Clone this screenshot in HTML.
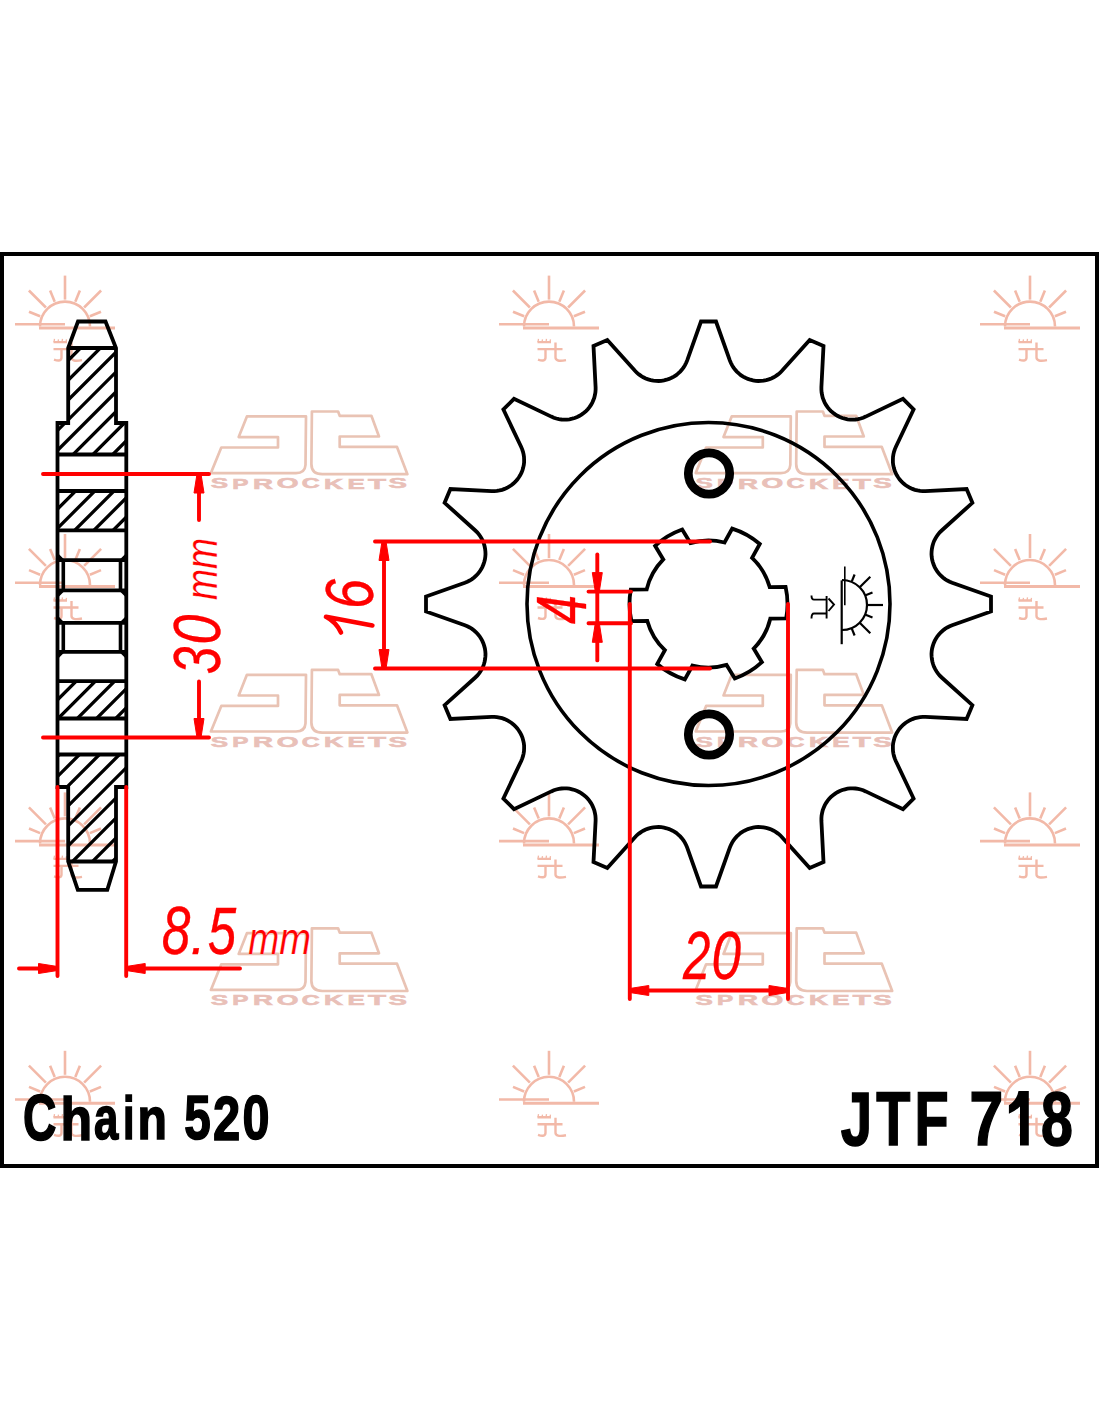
<!DOCTYPE html><html><head><meta charset="utf-8"><style>html,body{margin:0;padding:0;background:#fff;}svg{display:block}</style></head><body>
<svg width="1100" height="1422" viewBox="0 0 1100 1422">
<rect x="0" y="0" width="1100" height="1422" fill="#fff"/>
<path d="M40,326.6 A25,25 0 0 1 90,326.6" fill="none" stroke="#f2b9a8" stroke-width="2.6"/>
<line x1="65" y1="299.6" x2="65" y2="275.6" stroke="#f2b9a8" stroke-width="2.6"/>
<line x1="75.3" y1="301.7" x2="79.9" y2="290.6" stroke="#f2b9a8" stroke-width="2.6"/>
<line x1="54.7" y1="301.7" x2="50.1" y2="290.6" stroke="#f2b9a8" stroke-width="2.6"/>
<line x1="84.1" y1="307.5" x2="101.1" y2="290.5" stroke="#f2b9a8" stroke-width="2.6"/>
<line x1="45.9" y1="307.5" x2="28.9" y2="290.5" stroke="#f2b9a8" stroke-width="2.6"/>
<line x1="89.9" y1="316.3" x2="101" y2="311.7" stroke="#f2b9a8" stroke-width="2.6"/>
<line x1="40.1" y1="316.3" x2="29" y2="311.7" stroke="#f2b9a8" stroke-width="2.6"/>
<line x1="15" y1="324.3" x2="65" y2="324.3" stroke="#f2b9a8" stroke-width="2.6"/>
<line x1="39" y1="328.1" x2="115" y2="328.1" stroke="#f2b9a8" stroke-width="3"/>
<path d="M53.5,342.1 L67,342.1 M53.5,349.1 L78.5,349.1 M61.5,349.1 L61.5,357.6 Q61.5,362.1 54,359.6 M71.5,342.6 L71.5,357.6 Q71.5,362.1 82,360.1" fill="none" stroke="#f2b9a8" stroke-width="2.4"/>
<path d="M54,342.1 L54.5,338.9 M58,342.1 L58.5,339.4 M62,342.1 L62.5,338.9 M66,342.1 L66.5,339.4" stroke="#f2b9a8" stroke-width="1.3" fill="none"/>
<path d="M524,326.6 A25,25 0 0 1 574,326.6" fill="none" stroke="#f2b9a8" stroke-width="2.6"/>
<line x1="549" y1="299.6" x2="549" y2="275.6" stroke="#f2b9a8" stroke-width="2.6"/>
<line x1="559.3" y1="301.7" x2="563.9" y2="290.6" stroke="#f2b9a8" stroke-width="2.6"/>
<line x1="538.7" y1="301.7" x2="534.1" y2="290.6" stroke="#f2b9a8" stroke-width="2.6"/>
<line x1="568.1" y1="307.5" x2="585.1" y2="290.5" stroke="#f2b9a8" stroke-width="2.6"/>
<line x1="529.9" y1="307.5" x2="512.9" y2="290.5" stroke="#f2b9a8" stroke-width="2.6"/>
<line x1="573.9" y1="316.3" x2="585" y2="311.7" stroke="#f2b9a8" stroke-width="2.6"/>
<line x1="524.1" y1="316.3" x2="513" y2="311.7" stroke="#f2b9a8" stroke-width="2.6"/>
<line x1="499" y1="324.3" x2="549" y2="324.3" stroke="#f2b9a8" stroke-width="2.6"/>
<line x1="523" y1="328.1" x2="599" y2="328.1" stroke="#f2b9a8" stroke-width="3"/>
<path d="M537.5,342.1 L551,342.1 M537.5,349.1 L562.5,349.1 M545.5,349.1 L545.5,357.6 Q545.5,362.1 538,359.6 M555.5,342.6 L555.5,357.6 Q555.5,362.1 566,360.1" fill="none" stroke="#f2b9a8" stroke-width="2.4"/>
<path d="M538,342.1 L538.5,338.9 M542,342.1 L542.5,339.4 M546,342.1 L546.5,338.9 M550,342.1 L550.5,339.4" stroke="#f2b9a8" stroke-width="1.3" fill="none"/>
<path d="M1005,326.6 A25,25 0 0 1 1055,326.6" fill="none" stroke="#f2b9a8" stroke-width="2.6"/>
<line x1="1030" y1="299.6" x2="1030" y2="275.6" stroke="#f2b9a8" stroke-width="2.6"/>
<line x1="1040.3" y1="301.7" x2="1044.9" y2="290.6" stroke="#f2b9a8" stroke-width="2.6"/>
<line x1="1019.7" y1="301.7" x2="1015.1" y2="290.6" stroke="#f2b9a8" stroke-width="2.6"/>
<line x1="1049.1" y1="307.5" x2="1066.1" y2="290.5" stroke="#f2b9a8" stroke-width="2.6"/>
<line x1="1010.9" y1="307.5" x2="993.9" y2="290.5" stroke="#f2b9a8" stroke-width="2.6"/>
<line x1="1054.9" y1="316.3" x2="1066" y2="311.7" stroke="#f2b9a8" stroke-width="2.6"/>
<line x1="1005.1" y1="316.3" x2="994" y2="311.7" stroke="#f2b9a8" stroke-width="2.6"/>
<line x1="980" y1="324.3" x2="1030" y2="324.3" stroke="#f2b9a8" stroke-width="2.6"/>
<line x1="1004" y1="328.1" x2="1080" y2="328.1" stroke="#f2b9a8" stroke-width="3"/>
<path d="M1018.5,342.1 L1032,342.1 M1018.5,349.1 L1043.5,349.1 M1026.5,349.1 L1026.5,357.6 Q1026.5,362.1 1019,359.6 M1036.5,342.6 L1036.5,357.6 Q1036.5,362.1 1047,360.1" fill="none" stroke="#f2b9a8" stroke-width="2.4"/>
<path d="M1019,342.1 L1019.5,338.9 M1023,342.1 L1023.5,339.4 M1027,342.1 L1027.5,338.9 M1031,342.1 L1031.5,339.4" stroke="#f2b9a8" stroke-width="1.3" fill="none"/>
<path d="M40,585 A25,25 0 0 1 90,585" fill="none" stroke="#f2b9a8" stroke-width="2.6"/>
<line x1="65" y1="558" x2="65" y2="534" stroke="#f2b9a8" stroke-width="2.6"/>
<line x1="75.3" y1="560.1" x2="79.9" y2="549" stroke="#f2b9a8" stroke-width="2.6"/>
<line x1="54.7" y1="560.1" x2="50.1" y2="549" stroke="#f2b9a8" stroke-width="2.6"/>
<line x1="84.1" y1="565.9" x2="101.1" y2="548.9" stroke="#f2b9a8" stroke-width="2.6"/>
<line x1="45.9" y1="565.9" x2="28.9" y2="548.9" stroke="#f2b9a8" stroke-width="2.6"/>
<line x1="89.9" y1="574.7" x2="101" y2="570.1" stroke="#f2b9a8" stroke-width="2.6"/>
<line x1="40.1" y1="574.7" x2="29" y2="570.1" stroke="#f2b9a8" stroke-width="2.6"/>
<line x1="15" y1="582.7" x2="65" y2="582.7" stroke="#f2b9a8" stroke-width="2.6"/>
<line x1="39" y1="586.5" x2="115" y2="586.5" stroke="#f2b9a8" stroke-width="3"/>
<path d="M53.5,600.5 L67,600.5 M53.5,607.5 L78.5,607.5 M61.5,607.5 L61.5,616 Q61.5,620.5 54,618 M71.5,601 L71.5,616 Q71.5,620.5 82,618.5" fill="none" stroke="#f2b9a8" stroke-width="2.4"/>
<path d="M54,600.5 L54.5,597.3 M58,600.5 L58.5,597.8 M62,600.5 L62.5,597.3 M66,600.5 L66.5,597.8" stroke="#f2b9a8" stroke-width="1.3" fill="none"/>
<path d="M524,585 A25,25 0 0 1 574,585" fill="none" stroke="#f2b9a8" stroke-width="2.6"/>
<line x1="549" y1="558" x2="549" y2="534" stroke="#f2b9a8" stroke-width="2.6"/>
<line x1="559.3" y1="560.1" x2="563.9" y2="549" stroke="#f2b9a8" stroke-width="2.6"/>
<line x1="538.7" y1="560.1" x2="534.1" y2="549" stroke="#f2b9a8" stroke-width="2.6"/>
<line x1="568.1" y1="565.9" x2="585.1" y2="548.9" stroke="#f2b9a8" stroke-width="2.6"/>
<line x1="529.9" y1="565.9" x2="512.9" y2="548.9" stroke="#f2b9a8" stroke-width="2.6"/>
<line x1="573.9" y1="574.7" x2="585" y2="570.1" stroke="#f2b9a8" stroke-width="2.6"/>
<line x1="524.1" y1="574.7" x2="513" y2="570.1" stroke="#f2b9a8" stroke-width="2.6"/>
<line x1="499" y1="582.7" x2="549" y2="582.7" stroke="#f2b9a8" stroke-width="2.6"/>
<line x1="523" y1="586.5" x2="599" y2="586.5" stroke="#f2b9a8" stroke-width="3"/>
<path d="M537.5,600.5 L551,600.5 M537.5,607.5 L562.5,607.5 M545.5,607.5 L545.5,616 Q545.5,620.5 538,618 M555.5,601 L555.5,616 Q555.5,620.5 566,618.5" fill="none" stroke="#f2b9a8" stroke-width="2.4"/>
<path d="M538,600.5 L538.5,597.3 M542,600.5 L542.5,597.8 M546,600.5 L546.5,597.3 M550,600.5 L550.5,597.8" stroke="#f2b9a8" stroke-width="1.3" fill="none"/>
<path d="M1005,585 A25,25 0 0 1 1055,585" fill="none" stroke="#f2b9a8" stroke-width="2.6"/>
<line x1="1030" y1="558" x2="1030" y2="534" stroke="#f2b9a8" stroke-width="2.6"/>
<line x1="1040.3" y1="560.1" x2="1044.9" y2="549" stroke="#f2b9a8" stroke-width="2.6"/>
<line x1="1019.7" y1="560.1" x2="1015.1" y2="549" stroke="#f2b9a8" stroke-width="2.6"/>
<line x1="1049.1" y1="565.9" x2="1066.1" y2="548.9" stroke="#f2b9a8" stroke-width="2.6"/>
<line x1="1010.9" y1="565.9" x2="993.9" y2="548.9" stroke="#f2b9a8" stroke-width="2.6"/>
<line x1="1054.9" y1="574.7" x2="1066" y2="570.1" stroke="#f2b9a8" stroke-width="2.6"/>
<line x1="1005.1" y1="574.7" x2="994" y2="570.1" stroke="#f2b9a8" stroke-width="2.6"/>
<line x1="980" y1="582.7" x2="1030" y2="582.7" stroke="#f2b9a8" stroke-width="2.6"/>
<line x1="1004" y1="586.5" x2="1080" y2="586.5" stroke="#f2b9a8" stroke-width="3"/>
<path d="M1018.5,600.5 L1032,600.5 M1018.5,607.5 L1043.5,607.5 M1026.5,607.5 L1026.5,616 Q1026.5,620.5 1019,618 M1036.5,601 L1036.5,616 Q1036.5,620.5 1047,618.5" fill="none" stroke="#f2b9a8" stroke-width="2.4"/>
<path d="M1019,600.5 L1019.5,597.3 M1023,600.5 L1023.5,597.8 M1027,600.5 L1027.5,597.3 M1031,600.5 L1031.5,597.8" stroke="#f2b9a8" stroke-width="1.3" fill="none"/>
<path d="M40,843.4 A25,25 0 0 1 90,843.4" fill="none" stroke="#f2b9a8" stroke-width="2.6"/>
<line x1="65" y1="816.4" x2="65" y2="792.4" stroke="#f2b9a8" stroke-width="2.6"/>
<line x1="75.3" y1="818.5" x2="79.9" y2="807.4" stroke="#f2b9a8" stroke-width="2.6"/>
<line x1="54.7" y1="818.5" x2="50.1" y2="807.4" stroke="#f2b9a8" stroke-width="2.6"/>
<line x1="84.1" y1="824.3" x2="101.1" y2="807.3" stroke="#f2b9a8" stroke-width="2.6"/>
<line x1="45.9" y1="824.3" x2="28.9" y2="807.3" stroke="#f2b9a8" stroke-width="2.6"/>
<line x1="89.9" y1="833.1" x2="101" y2="828.5" stroke="#f2b9a8" stroke-width="2.6"/>
<line x1="40.1" y1="833.1" x2="29" y2="828.5" stroke="#f2b9a8" stroke-width="2.6"/>
<line x1="15" y1="841.1" x2="65" y2="841.1" stroke="#f2b9a8" stroke-width="2.6"/>
<line x1="39" y1="844.9" x2="115" y2="844.9" stroke="#f2b9a8" stroke-width="3"/>
<path d="M53.5,858.9 L67,858.9 M53.5,865.9 L78.5,865.9 M61.5,865.9 L61.5,874.4 Q61.5,878.9 54,876.4 M71.5,859.4 L71.5,874.4 Q71.5,878.9 82,876.9" fill="none" stroke="#f2b9a8" stroke-width="2.4"/>
<path d="M54,858.9 L54.5,855.7 M58,858.9 L58.5,856.2 M62,858.9 L62.5,855.7 M66,858.9 L66.5,856.2" stroke="#f2b9a8" stroke-width="1.3" fill="none"/>
<path d="M524,843.4 A25,25 0 0 1 574,843.4" fill="none" stroke="#f2b9a8" stroke-width="2.6"/>
<line x1="549" y1="816.4" x2="549" y2="792.4" stroke="#f2b9a8" stroke-width="2.6"/>
<line x1="559.3" y1="818.5" x2="563.9" y2="807.4" stroke="#f2b9a8" stroke-width="2.6"/>
<line x1="538.7" y1="818.5" x2="534.1" y2="807.4" stroke="#f2b9a8" stroke-width="2.6"/>
<line x1="568.1" y1="824.3" x2="585.1" y2="807.3" stroke="#f2b9a8" stroke-width="2.6"/>
<line x1="529.9" y1="824.3" x2="512.9" y2="807.3" stroke="#f2b9a8" stroke-width="2.6"/>
<line x1="573.9" y1="833.1" x2="585" y2="828.5" stroke="#f2b9a8" stroke-width="2.6"/>
<line x1="524.1" y1="833.1" x2="513" y2="828.5" stroke="#f2b9a8" stroke-width="2.6"/>
<line x1="499" y1="841.1" x2="549" y2="841.1" stroke="#f2b9a8" stroke-width="2.6"/>
<line x1="523" y1="844.9" x2="599" y2="844.9" stroke="#f2b9a8" stroke-width="3"/>
<path d="M537.5,858.9 L551,858.9 M537.5,865.9 L562.5,865.9 M545.5,865.9 L545.5,874.4 Q545.5,878.9 538,876.4 M555.5,859.4 L555.5,874.4 Q555.5,878.9 566,876.9" fill="none" stroke="#f2b9a8" stroke-width="2.4"/>
<path d="M538,858.9 L538.5,855.7 M542,858.9 L542.5,856.2 M546,858.9 L546.5,855.7 M550,858.9 L550.5,856.2" stroke="#f2b9a8" stroke-width="1.3" fill="none"/>
<path d="M1005,843.4 A25,25 0 0 1 1055,843.4" fill="none" stroke="#f2b9a8" stroke-width="2.6"/>
<line x1="1030" y1="816.4" x2="1030" y2="792.4" stroke="#f2b9a8" stroke-width="2.6"/>
<line x1="1040.3" y1="818.5" x2="1044.9" y2="807.4" stroke="#f2b9a8" stroke-width="2.6"/>
<line x1="1019.7" y1="818.5" x2="1015.1" y2="807.4" stroke="#f2b9a8" stroke-width="2.6"/>
<line x1="1049.1" y1="824.3" x2="1066.1" y2="807.3" stroke="#f2b9a8" stroke-width="2.6"/>
<line x1="1010.9" y1="824.3" x2="993.9" y2="807.3" stroke="#f2b9a8" stroke-width="2.6"/>
<line x1="1054.9" y1="833.1" x2="1066" y2="828.5" stroke="#f2b9a8" stroke-width="2.6"/>
<line x1="1005.1" y1="833.1" x2="994" y2="828.5" stroke="#f2b9a8" stroke-width="2.6"/>
<line x1="980" y1="841.1" x2="1030" y2="841.1" stroke="#f2b9a8" stroke-width="2.6"/>
<line x1="1004" y1="844.9" x2="1080" y2="844.9" stroke="#f2b9a8" stroke-width="3"/>
<path d="M1018.5,858.9 L1032,858.9 M1018.5,865.9 L1043.5,865.9 M1026.5,865.9 L1026.5,874.4 Q1026.5,878.9 1019,876.4 M1036.5,859.4 L1036.5,874.4 Q1036.5,878.9 1047,876.9" fill="none" stroke="#f2b9a8" stroke-width="2.4"/>
<path d="M1019,858.9 L1019.5,855.7 M1023,858.9 L1023.5,856.2 M1027,858.9 L1027.5,855.7 M1031,858.9 L1031.5,856.2" stroke="#f2b9a8" stroke-width="1.3" fill="none"/>
<path d="M40,1101.8 A25,25 0 0 1 90,1101.8" fill="none" stroke="#f2b9a8" stroke-width="2.6"/>
<line x1="65" y1="1074.8" x2="65" y2="1050.8" stroke="#f2b9a8" stroke-width="2.6"/>
<line x1="75.3" y1="1076.9" x2="79.9" y2="1065.8" stroke="#f2b9a8" stroke-width="2.6"/>
<line x1="54.7" y1="1076.9" x2="50.1" y2="1065.8" stroke="#f2b9a8" stroke-width="2.6"/>
<line x1="84.1" y1="1082.7" x2="101.1" y2="1065.7" stroke="#f2b9a8" stroke-width="2.6"/>
<line x1="45.9" y1="1082.7" x2="28.9" y2="1065.7" stroke="#f2b9a8" stroke-width="2.6"/>
<line x1="89.9" y1="1091.5" x2="101" y2="1086.9" stroke="#f2b9a8" stroke-width="2.6"/>
<line x1="40.1" y1="1091.5" x2="29" y2="1086.9" stroke="#f2b9a8" stroke-width="2.6"/>
<line x1="15" y1="1099.5" x2="65" y2="1099.5" stroke="#f2b9a8" stroke-width="2.6"/>
<line x1="39" y1="1103.3" x2="115" y2="1103.3" stroke="#f2b9a8" stroke-width="3"/>
<path d="M53.5,1117.3 L67,1117.3 M53.5,1124.3 L78.5,1124.3 M61.5,1124.3 L61.5,1132.8 Q61.5,1137.3 54,1134.8 M71.5,1117.8 L71.5,1132.8 Q71.5,1137.3 82,1135.3" fill="none" stroke="#f2b9a8" stroke-width="2.4"/>
<path d="M54,1117.3 L54.5,1114.1 M58,1117.3 L58.5,1114.6 M62,1117.3 L62.5,1114.1 M66,1117.3 L66.5,1114.6" stroke="#f2b9a8" stroke-width="1.3" fill="none"/>
<path d="M524,1101.8 A25,25 0 0 1 574,1101.8" fill="none" stroke="#f2b9a8" stroke-width="2.6"/>
<line x1="549" y1="1074.8" x2="549" y2="1050.8" stroke="#f2b9a8" stroke-width="2.6"/>
<line x1="559.3" y1="1076.9" x2="563.9" y2="1065.8" stroke="#f2b9a8" stroke-width="2.6"/>
<line x1="538.7" y1="1076.9" x2="534.1" y2="1065.8" stroke="#f2b9a8" stroke-width="2.6"/>
<line x1="568.1" y1="1082.7" x2="585.1" y2="1065.7" stroke="#f2b9a8" stroke-width="2.6"/>
<line x1="529.9" y1="1082.7" x2="512.9" y2="1065.7" stroke="#f2b9a8" stroke-width="2.6"/>
<line x1="573.9" y1="1091.5" x2="585" y2="1086.9" stroke="#f2b9a8" stroke-width="2.6"/>
<line x1="524.1" y1="1091.5" x2="513" y2="1086.9" stroke="#f2b9a8" stroke-width="2.6"/>
<line x1="499" y1="1099.5" x2="549" y2="1099.5" stroke="#f2b9a8" stroke-width="2.6"/>
<line x1="523" y1="1103.3" x2="599" y2="1103.3" stroke="#f2b9a8" stroke-width="3"/>
<path d="M537.5,1117.3 L551,1117.3 M537.5,1124.3 L562.5,1124.3 M545.5,1124.3 L545.5,1132.8 Q545.5,1137.3 538,1134.8 M555.5,1117.8 L555.5,1132.8 Q555.5,1137.3 566,1135.3" fill="none" stroke="#f2b9a8" stroke-width="2.4"/>
<path d="M538,1117.3 L538.5,1114.1 M542,1117.3 L542.5,1114.6 M546,1117.3 L546.5,1114.1 M550,1117.3 L550.5,1114.6" stroke="#f2b9a8" stroke-width="1.3" fill="none"/>
<path d="M1005,1101.8 A25,25 0 0 1 1055,1101.8" fill="none" stroke="#f2b9a8" stroke-width="2.6"/>
<line x1="1030" y1="1074.8" x2="1030" y2="1050.8" stroke="#f2b9a8" stroke-width="2.6"/>
<line x1="1040.3" y1="1076.9" x2="1044.9" y2="1065.8" stroke="#f2b9a8" stroke-width="2.6"/>
<line x1="1019.7" y1="1076.9" x2="1015.1" y2="1065.8" stroke="#f2b9a8" stroke-width="2.6"/>
<line x1="1049.1" y1="1082.7" x2="1066.1" y2="1065.7" stroke="#f2b9a8" stroke-width="2.6"/>
<line x1="1010.9" y1="1082.7" x2="993.9" y2="1065.7" stroke="#f2b9a8" stroke-width="2.6"/>
<line x1="1054.9" y1="1091.5" x2="1066" y2="1086.9" stroke="#f2b9a8" stroke-width="2.6"/>
<line x1="1005.1" y1="1091.5" x2="994" y2="1086.9" stroke="#f2b9a8" stroke-width="2.6"/>
<line x1="980" y1="1099.5" x2="1030" y2="1099.5" stroke="#f2b9a8" stroke-width="2.6"/>
<line x1="1004" y1="1103.3" x2="1080" y2="1103.3" stroke="#f2b9a8" stroke-width="3"/>
<path d="M1018.5,1117.3 L1032,1117.3 M1018.5,1124.3 L1043.5,1124.3 M1026.5,1124.3 L1026.5,1132.8 Q1026.5,1137.3 1019,1134.8 M1036.5,1117.8 L1036.5,1132.8 Q1036.5,1137.3 1047,1135.3" fill="none" stroke="#f2b9a8" stroke-width="2.4"/>
<path d="M1019,1117.3 L1019.5,1114.1 M1023,1117.3 L1023.5,1114.6 M1027,1117.3 L1027.5,1114.1 M1031,1117.3 L1031.5,1114.6" stroke="#f2b9a8" stroke-width="1.3" fill="none"/>
<g transform="translate(0,0)"><path d="M246.9,416.4 L306,416.4 L305.5,465 Q305,473.1 296,473.1 L210.9,473.1 L221.3,447.5 L278,447.5 L278,437.1 L238.7,437.1 Z" fill="none" stroke="#e9c3b4" stroke-width="2.7" stroke-linejoin="round"/><path d="M311.9,411.5 L338.1,411.5 L339.7,415.8 L371.4,415.8 L379,436.5 L339.7,436.5 L339.7,446.9 L397,446.9 L407.4,474.2 L322.3,474.2 Q311.4,474.2 311.4,464 Z" fill="none" stroke="#e9c3b4" stroke-width="2.7" stroke-linejoin="round"/><text transform="translate(210.72,488.35) scale(1.7750,1)" font-family="Liberation Sans" font-style="normal" font-weight="bold" font-size="14.65" fill="#e9c0b8" stroke="#e9c0b8" stroke-width="0.6">S</text><text transform="translate(232.32,488.50) scale(1.6134,1)" font-family="Liberation Sans" font-style="normal" font-weight="bold" font-size="15.07" fill="#e9c0b8" stroke="#e9c0b8" stroke-width="0.6">P</text><text transform="translate(253.10,488.50) scale(1.8389,1)" font-family="Liberation Sans" font-style="normal" font-weight="bold" font-size="15.07" fill="#e9c0b8" stroke="#e9c0b8" stroke-width="0.6">R</text><text transform="translate(276.68,488.35) scale(1.9086,1)" font-family="Liberation Sans" font-style="normal" font-weight="bold" font-size="14.65" fill="#e9c0b8" stroke="#e9c0b8" stroke-width="0.6">O</text><text transform="translate(301.70,488.35) scale(1.6989,1)" font-family="Liberation Sans" font-style="normal" font-weight="bold" font-size="14.65" fill="#e9c0b8" stroke="#e9c0b8" stroke-width="0.6">C</text><text transform="translate(324.08,488.50) scale(1.7522,1)" font-family="Liberation Sans" font-style="normal" font-weight="bold" font-size="15.07" fill="#e9c0b8" stroke="#e9c0b8" stroke-width="0.6">K</text><text transform="translate(347.51,488.50) scale(1.7262,1)" font-family="Liberation Sans" font-style="normal" font-weight="bold" font-size="15.07" fill="#e9c0b8" stroke="#e9c0b8" stroke-width="0.6">E</text><text transform="translate(368.00,488.50) scale(1.9596,1)" font-family="Liberation Sans" font-style="normal" font-weight="bold" font-size="15.07" fill="#e9c0b8" stroke="#e9c0b8" stroke-width="0.6">T</text><text transform="translate(388.47,488.35) scale(1.8888,1)" font-family="Liberation Sans" font-style="normal" font-weight="bold" font-size="14.65" fill="#e9c0b8" stroke="#e9c0b8" stroke-width="0.6">S</text></g>
<g transform="translate(484.8,0)"><path d="M246.9,416.4 L306,416.4 L305.5,465 Q305,473.1 296,473.1 L210.9,473.1 L221.3,447.5 L278,447.5 L278,437.1 L238.7,437.1 Z" fill="none" stroke="#e9c3b4" stroke-width="2.7" stroke-linejoin="round"/><path d="M311.9,411.5 L338.1,411.5 L339.7,415.8 L371.4,415.8 L379,436.5 L339.7,436.5 L339.7,446.9 L397,446.9 L407.4,474.2 L322.3,474.2 Q311.4,474.2 311.4,464 Z" fill="none" stroke="#e9c3b4" stroke-width="2.7" stroke-linejoin="round"/><text transform="translate(210.72,488.35) scale(1.7750,1)" font-family="Liberation Sans" font-style="normal" font-weight="bold" font-size="14.65" fill="#e9c0b8" stroke="#e9c0b8" stroke-width="0.6">S</text><text transform="translate(232.32,488.50) scale(1.6134,1)" font-family="Liberation Sans" font-style="normal" font-weight="bold" font-size="15.07" fill="#e9c0b8" stroke="#e9c0b8" stroke-width="0.6">P</text><text transform="translate(253.10,488.50) scale(1.8389,1)" font-family="Liberation Sans" font-style="normal" font-weight="bold" font-size="15.07" fill="#e9c0b8" stroke="#e9c0b8" stroke-width="0.6">R</text><text transform="translate(276.68,488.35) scale(1.9086,1)" font-family="Liberation Sans" font-style="normal" font-weight="bold" font-size="14.65" fill="#e9c0b8" stroke="#e9c0b8" stroke-width="0.6">O</text><text transform="translate(301.70,488.35) scale(1.6989,1)" font-family="Liberation Sans" font-style="normal" font-weight="bold" font-size="14.65" fill="#e9c0b8" stroke="#e9c0b8" stroke-width="0.6">C</text><text transform="translate(324.08,488.50) scale(1.7522,1)" font-family="Liberation Sans" font-style="normal" font-weight="bold" font-size="15.07" fill="#e9c0b8" stroke="#e9c0b8" stroke-width="0.6">K</text><text transform="translate(347.51,488.50) scale(1.7262,1)" font-family="Liberation Sans" font-style="normal" font-weight="bold" font-size="15.07" fill="#e9c0b8" stroke="#e9c0b8" stroke-width="0.6">E</text><text transform="translate(368.00,488.50) scale(1.9596,1)" font-family="Liberation Sans" font-style="normal" font-weight="bold" font-size="15.07" fill="#e9c0b8" stroke="#e9c0b8" stroke-width="0.6">T</text><text transform="translate(388.47,488.35) scale(1.8888,1)" font-family="Liberation Sans" font-style="normal" font-weight="bold" font-size="14.65" fill="#e9c0b8" stroke="#e9c0b8" stroke-width="0.6">S</text></g>
<g transform="translate(0,258.4)"><path d="M246.9,416.4 L306,416.4 L305.5,465 Q305,473.1 296,473.1 L210.9,473.1 L221.3,447.5 L278,447.5 L278,437.1 L238.7,437.1 Z" fill="none" stroke="#e9c3b4" stroke-width="2.7" stroke-linejoin="round"/><path d="M311.9,411.5 L338.1,411.5 L339.7,415.8 L371.4,415.8 L379,436.5 L339.7,436.5 L339.7,446.9 L397,446.9 L407.4,474.2 L322.3,474.2 Q311.4,474.2 311.4,464 Z" fill="none" stroke="#e9c3b4" stroke-width="2.7" stroke-linejoin="round"/><text transform="translate(210.72,488.35) scale(1.7750,1)" font-family="Liberation Sans" font-style="normal" font-weight="bold" font-size="14.65" fill="#e9c0b8" stroke="#e9c0b8" stroke-width="0.6">S</text><text transform="translate(232.32,488.50) scale(1.6134,1)" font-family="Liberation Sans" font-style="normal" font-weight="bold" font-size="15.07" fill="#e9c0b8" stroke="#e9c0b8" stroke-width="0.6">P</text><text transform="translate(253.10,488.50) scale(1.8389,1)" font-family="Liberation Sans" font-style="normal" font-weight="bold" font-size="15.07" fill="#e9c0b8" stroke="#e9c0b8" stroke-width="0.6">R</text><text transform="translate(276.68,488.35) scale(1.9086,1)" font-family="Liberation Sans" font-style="normal" font-weight="bold" font-size="14.65" fill="#e9c0b8" stroke="#e9c0b8" stroke-width="0.6">O</text><text transform="translate(301.70,488.35) scale(1.6989,1)" font-family="Liberation Sans" font-style="normal" font-weight="bold" font-size="14.65" fill="#e9c0b8" stroke="#e9c0b8" stroke-width="0.6">C</text><text transform="translate(324.08,488.50) scale(1.7522,1)" font-family="Liberation Sans" font-style="normal" font-weight="bold" font-size="15.07" fill="#e9c0b8" stroke="#e9c0b8" stroke-width="0.6">K</text><text transform="translate(347.51,488.50) scale(1.7262,1)" font-family="Liberation Sans" font-style="normal" font-weight="bold" font-size="15.07" fill="#e9c0b8" stroke="#e9c0b8" stroke-width="0.6">E</text><text transform="translate(368.00,488.50) scale(1.9596,1)" font-family="Liberation Sans" font-style="normal" font-weight="bold" font-size="15.07" fill="#e9c0b8" stroke="#e9c0b8" stroke-width="0.6">T</text><text transform="translate(388.47,488.35) scale(1.8888,1)" font-family="Liberation Sans" font-style="normal" font-weight="bold" font-size="14.65" fill="#e9c0b8" stroke="#e9c0b8" stroke-width="0.6">S</text></g>
<g transform="translate(484.8,258.4)"><path d="M246.9,416.4 L306,416.4 L305.5,465 Q305,473.1 296,473.1 L210.9,473.1 L221.3,447.5 L278,447.5 L278,437.1 L238.7,437.1 Z" fill="none" stroke="#e9c3b4" stroke-width="2.7" stroke-linejoin="round"/><path d="M311.9,411.5 L338.1,411.5 L339.7,415.8 L371.4,415.8 L379,436.5 L339.7,436.5 L339.7,446.9 L397,446.9 L407.4,474.2 L322.3,474.2 Q311.4,474.2 311.4,464 Z" fill="none" stroke="#e9c3b4" stroke-width="2.7" stroke-linejoin="round"/><text transform="translate(210.72,488.35) scale(1.7750,1)" font-family="Liberation Sans" font-style="normal" font-weight="bold" font-size="14.65" fill="#e9c0b8" stroke="#e9c0b8" stroke-width="0.6">S</text><text transform="translate(232.32,488.50) scale(1.6134,1)" font-family="Liberation Sans" font-style="normal" font-weight="bold" font-size="15.07" fill="#e9c0b8" stroke="#e9c0b8" stroke-width="0.6">P</text><text transform="translate(253.10,488.50) scale(1.8389,1)" font-family="Liberation Sans" font-style="normal" font-weight="bold" font-size="15.07" fill="#e9c0b8" stroke="#e9c0b8" stroke-width="0.6">R</text><text transform="translate(276.68,488.35) scale(1.9086,1)" font-family="Liberation Sans" font-style="normal" font-weight="bold" font-size="14.65" fill="#e9c0b8" stroke="#e9c0b8" stroke-width="0.6">O</text><text transform="translate(301.70,488.35) scale(1.6989,1)" font-family="Liberation Sans" font-style="normal" font-weight="bold" font-size="14.65" fill="#e9c0b8" stroke="#e9c0b8" stroke-width="0.6">C</text><text transform="translate(324.08,488.50) scale(1.7522,1)" font-family="Liberation Sans" font-style="normal" font-weight="bold" font-size="15.07" fill="#e9c0b8" stroke="#e9c0b8" stroke-width="0.6">K</text><text transform="translate(347.51,488.50) scale(1.7262,1)" font-family="Liberation Sans" font-style="normal" font-weight="bold" font-size="15.07" fill="#e9c0b8" stroke="#e9c0b8" stroke-width="0.6">E</text><text transform="translate(368.00,488.50) scale(1.9596,1)" font-family="Liberation Sans" font-style="normal" font-weight="bold" font-size="15.07" fill="#e9c0b8" stroke="#e9c0b8" stroke-width="0.6">T</text><text transform="translate(388.47,488.35) scale(1.8888,1)" font-family="Liberation Sans" font-style="normal" font-weight="bold" font-size="14.65" fill="#e9c0b8" stroke="#e9c0b8" stroke-width="0.6">S</text></g>
<g transform="translate(0,516.8)"><path d="M246.9,416.4 L306,416.4 L305.5,465 Q305,473.1 296,473.1 L210.9,473.1 L221.3,447.5 L278,447.5 L278,437.1 L238.7,437.1 Z" fill="none" stroke="#e9c3b4" stroke-width="2.7" stroke-linejoin="round"/><path d="M311.9,411.5 L338.1,411.5 L339.7,415.8 L371.4,415.8 L379,436.5 L339.7,436.5 L339.7,446.9 L397,446.9 L407.4,474.2 L322.3,474.2 Q311.4,474.2 311.4,464 Z" fill="none" stroke="#e9c3b4" stroke-width="2.7" stroke-linejoin="round"/><text transform="translate(210.72,488.35) scale(1.7750,1)" font-family="Liberation Sans" font-style="normal" font-weight="bold" font-size="14.65" fill="#e9c0b8" stroke="#e9c0b8" stroke-width="0.6">S</text><text transform="translate(232.32,488.50) scale(1.6134,1)" font-family="Liberation Sans" font-style="normal" font-weight="bold" font-size="15.07" fill="#e9c0b8" stroke="#e9c0b8" stroke-width="0.6">P</text><text transform="translate(253.10,488.50) scale(1.8389,1)" font-family="Liberation Sans" font-style="normal" font-weight="bold" font-size="15.07" fill="#e9c0b8" stroke="#e9c0b8" stroke-width="0.6">R</text><text transform="translate(276.68,488.35) scale(1.9086,1)" font-family="Liberation Sans" font-style="normal" font-weight="bold" font-size="14.65" fill="#e9c0b8" stroke="#e9c0b8" stroke-width="0.6">O</text><text transform="translate(301.70,488.35) scale(1.6989,1)" font-family="Liberation Sans" font-style="normal" font-weight="bold" font-size="14.65" fill="#e9c0b8" stroke="#e9c0b8" stroke-width="0.6">C</text><text transform="translate(324.08,488.50) scale(1.7522,1)" font-family="Liberation Sans" font-style="normal" font-weight="bold" font-size="15.07" fill="#e9c0b8" stroke="#e9c0b8" stroke-width="0.6">K</text><text transform="translate(347.51,488.50) scale(1.7262,1)" font-family="Liberation Sans" font-style="normal" font-weight="bold" font-size="15.07" fill="#e9c0b8" stroke="#e9c0b8" stroke-width="0.6">E</text><text transform="translate(368.00,488.50) scale(1.9596,1)" font-family="Liberation Sans" font-style="normal" font-weight="bold" font-size="15.07" fill="#e9c0b8" stroke="#e9c0b8" stroke-width="0.6">T</text><text transform="translate(388.47,488.35) scale(1.8888,1)" font-family="Liberation Sans" font-style="normal" font-weight="bold" font-size="14.65" fill="#e9c0b8" stroke="#e9c0b8" stroke-width="0.6">S</text></g>
<g transform="translate(484.8,516.8)"><path d="M246.9,416.4 L306,416.4 L305.5,465 Q305,473.1 296,473.1 L210.9,473.1 L221.3,447.5 L278,447.5 L278,437.1 L238.7,437.1 Z" fill="none" stroke="#e9c3b4" stroke-width="2.7" stroke-linejoin="round"/><path d="M311.9,411.5 L338.1,411.5 L339.7,415.8 L371.4,415.8 L379,436.5 L339.7,436.5 L339.7,446.9 L397,446.9 L407.4,474.2 L322.3,474.2 Q311.4,474.2 311.4,464 Z" fill="none" stroke="#e9c3b4" stroke-width="2.7" stroke-linejoin="round"/><text transform="translate(210.72,488.35) scale(1.7750,1)" font-family="Liberation Sans" font-style="normal" font-weight="bold" font-size="14.65" fill="#e9c0b8" stroke="#e9c0b8" stroke-width="0.6">S</text><text transform="translate(232.32,488.50) scale(1.6134,1)" font-family="Liberation Sans" font-style="normal" font-weight="bold" font-size="15.07" fill="#e9c0b8" stroke="#e9c0b8" stroke-width="0.6">P</text><text transform="translate(253.10,488.50) scale(1.8389,1)" font-family="Liberation Sans" font-style="normal" font-weight="bold" font-size="15.07" fill="#e9c0b8" stroke="#e9c0b8" stroke-width="0.6">R</text><text transform="translate(276.68,488.35) scale(1.9086,1)" font-family="Liberation Sans" font-style="normal" font-weight="bold" font-size="14.65" fill="#e9c0b8" stroke="#e9c0b8" stroke-width="0.6">O</text><text transform="translate(301.70,488.35) scale(1.6989,1)" font-family="Liberation Sans" font-style="normal" font-weight="bold" font-size="14.65" fill="#e9c0b8" stroke="#e9c0b8" stroke-width="0.6">C</text><text transform="translate(324.08,488.50) scale(1.7522,1)" font-family="Liberation Sans" font-style="normal" font-weight="bold" font-size="15.07" fill="#e9c0b8" stroke="#e9c0b8" stroke-width="0.6">K</text><text transform="translate(347.51,488.50) scale(1.7262,1)" font-family="Liberation Sans" font-style="normal" font-weight="bold" font-size="15.07" fill="#e9c0b8" stroke="#e9c0b8" stroke-width="0.6">E</text><text transform="translate(368.00,488.50) scale(1.9596,1)" font-family="Liberation Sans" font-style="normal" font-weight="bold" font-size="15.07" fill="#e9c0b8" stroke="#e9c0b8" stroke-width="0.6">T</text><text transform="translate(388.47,488.35) scale(1.8888,1)" font-family="Liberation Sans" font-style="normal" font-weight="bold" font-size="14.65" fill="#e9c0b8" stroke="#e9c0b8" stroke-width="0.6">S</text></g>
<rect x="2" y="254" width="1095" height="912" fill="none" stroke="#000" stroke-width="4"/>
<path d="M701,321.5 L716,321.5 L729.8,360.4 L730.8,362.8 L732,365.2 L733.4,367.5 L735,369.6 L736.8,371.6 L738.8,373.4 L740.8,375.1 L743.1,376.6 L745.4,377.8 L747.9,378.9 L750.4,379.7 L753,380.4 L755.6,380.8 L758.3,381 L760.9,380.9 L763.6,380.6 L766.2,380.1 L768.8,379.4 L771.3,378.5 L773.7,377.3 L776,375.9 L778.1,374.4 L780.2,372.7 L782,370.8 L809.7,340.1 L823.5,345.9 L821.4,387.1 L821.4,389.7 L821.6,392.4 L822.1,395 L822.7,397.6 L823.6,400.1 L824.7,402.6 L826,404.9 L827.5,407.1 L829.2,409.2 L831,411.1 L833,412.8 L835.2,414.4 L837.4,415.8 L839.8,417 L842.3,418 L844.9,418.7 L847.5,419.3 L850.1,419.6 L852.8,419.6 L855.5,419.5 L858.1,419.1 L860.7,418.5 L863.2,417.7 L865.7,416.6 L903,398.9 L913.6,409.5 L895.9,446.8 L894.8,449.3 L894,451.8 L893.4,454.4 L893,457 L892.9,459.7 L892.9,462.4 L893.2,465 L893.8,467.6 L894.5,470.2 L895.5,472.7 L896.7,475.1 L898.1,477.3 L899.7,479.5 L901.4,481.5 L903.3,483.3 L905.4,485 L907.6,486.5 L909.9,487.8 L912.4,488.9 L914.9,489.8 L917.5,490.4 L920.1,490.9 L922.8,491.1 L925.4,491.1 L966.6,489 L972.4,502.8 L941.7,530.5 L939.8,532.3 L938.1,534.4 L936.6,536.5 L935.2,538.8 L934,541.2 L933.1,543.7 L932.4,546.3 L931.9,548.9 L931.6,551.6 L931.5,554.2 L931.7,556.9 L932.1,559.5 L932.8,562.1 L933.6,564.6 L934.7,567.1 L935.9,569.4 L937.4,571.7 L939.1,573.7 L940.9,575.7 L942.9,577.5 L945,579.1 L947.3,580.5 L949.7,581.7 L952.1,582.7 L991,596.5 L991,611.5 L952.1,625.3 L949.7,626.3 L947.3,627.5 L945,628.9 L942.9,630.5 L940.9,632.3 L939.1,634.3 L937.4,636.3 L935.9,638.6 L934.7,640.9 L933.6,643.4 L932.8,645.9 L932.1,648.5 L931.7,651.1 L931.5,653.8 L931.6,656.4 L931.9,659.1 L932.4,661.7 L933.1,664.3 L934,666.8 L935.2,669.2 L936.6,671.5 L938.1,673.6 L939.8,675.7 L941.7,677.5 L972.4,705.2 L966.6,719 L925.4,716.9 L922.8,716.9 L920.1,717.1 L917.5,717.6 L914.9,718.2 L912.4,719.1 L909.9,720.2 L907.6,721.5 L905.4,723 L903.3,724.7 L901.4,726.5 L899.7,728.5 L898.1,730.7 L896.7,732.9 L895.5,735.3 L894.5,737.8 L893.8,740.4 L893.2,743 L892.9,745.6 L892.9,748.3 L893,751 L893.4,753.6 L894,756.2 L894.8,758.7 L895.9,761.2 L913.6,798.5 L903,809.1 L865.7,791.4 L863.2,790.3 L860.7,789.5 L858.1,788.9 L855.5,788.5 L852.8,788.4 L850.1,788.4 L847.5,788.7 L844.9,789.3 L842.3,790 L839.8,791 L837.4,792.2 L835.2,793.6 L833,795.2 L831,796.9 L829.2,798.8 L827.5,800.9 L826,803.1 L824.7,805.4 L823.6,807.9 L822.7,810.4 L822.1,813 L821.6,815.6 L821.4,818.3 L821.4,820.9 L823.5,862.1 L809.7,867.9 L782,837.2 L780.2,835.3 L778.1,833.6 L776,832.1 L773.7,830.7 L771.3,829.5 L768.8,828.6 L766.2,827.9 L763.6,827.4 L760.9,827.1 L758.3,827 L755.6,827.2 L753,827.6 L750.4,828.3 L747.9,829.1 L745.4,830.2 L743.1,831.4 L740.8,832.9 L738.8,834.6 L736.8,836.4 L735,838.4 L733.4,840.5 L732,842.8 L730.8,845.2 L729.8,847.6 L716,886.5 L701,886.5 L687.2,847.6 L686.2,845.2 L685,842.8 L683.6,840.5 L682,838.4 L680.2,836.4 L678.2,834.6 L676.2,832.9 L673.9,831.4 L671.6,830.2 L669.1,829.1 L666.6,828.3 L664,827.6 L661.4,827.2 L658.7,827 L656.1,827.1 L653.4,827.4 L650.8,827.9 L648.2,828.6 L645.7,829.5 L643.3,830.7 L641,832.1 L638.9,833.6 L636.8,835.3 L635,837.2 L607.3,867.9 L593.5,862.1 L595.6,820.9 L595.6,818.3 L595.4,815.6 L594.9,813 L594.3,810.4 L593.4,807.9 L592.3,805.4 L591,803.1 L589.5,800.9 L587.8,798.8 L586,796.9 L584,795.2 L581.8,793.6 L579.6,792.2 L577.2,791 L574.7,790 L572.1,789.3 L569.5,788.7 L566.9,788.4 L564.2,788.4 L561.5,788.5 L558.9,788.9 L556.3,789.5 L553.8,790.3 L551.3,791.4 L514,809.1 L503.4,798.5 L521.1,761.2 L522.2,758.7 L523,756.2 L523.6,753.6 L524,751 L524.1,748.3 L524.1,745.6 L523.8,743 L523.2,740.4 L522.5,737.8 L521.5,735.3 L520.3,732.9 L518.9,730.7 L517.3,728.5 L515.6,726.5 L513.7,724.7 L511.6,723 L509.4,721.5 L507.1,720.2 L504.6,719.1 L502.1,718.2 L499.5,717.6 L496.9,717.1 L494.2,716.9 L491.6,716.9 L450.4,719 L444.6,705.2 L475.3,677.5 L477.2,675.7 L478.9,673.6 L480.4,671.5 L481.8,669.2 L483,666.8 L483.9,664.3 L484.6,661.7 L485.1,659.1 L485.4,656.4 L485.5,653.8 L485.3,651.1 L484.9,648.5 L484.2,645.9 L483.4,643.4 L482.3,640.9 L481.1,638.6 L479.6,636.3 L477.9,634.3 L476.1,632.3 L474.1,630.5 L472,628.9 L469.7,627.5 L467.3,626.3 L464.9,625.3 L426,611.5 L426,596.5 L464.9,582.7 L467.3,581.7 L469.7,580.5 L472,579.1 L474.1,577.5 L476.1,575.7 L477.9,573.7 L479.6,571.7 L481.1,569.4 L482.3,567.1 L483.4,564.6 L484.2,562.1 L484.9,559.5 L485.3,556.9 L485.5,554.2 L485.4,551.6 L485.1,548.9 L484.6,546.3 L483.9,543.7 L483,541.2 L481.8,538.8 L480.4,536.5 L478.9,534.4 L477.2,532.3 L475.3,530.5 L444.6,502.8 L450.4,489 L491.6,491.1 L494.2,491.1 L496.9,490.9 L499.5,490.4 L502.1,489.8 L504.6,488.9 L507.1,487.8 L509.4,486.5 L511.6,485 L513.7,483.3 L515.6,481.5 L517.3,479.5 L518.9,477.3 L520.3,475.1 L521.5,472.7 L522.5,470.2 L523.2,467.6 L523.8,465 L524.1,462.4 L524.1,459.7 L524,457 L523.6,454.4 L523,451.8 L522.2,449.3 L521.1,446.8 L503.4,409.5 L514,398.9 L551.3,416.6 L553.8,417.7 L556.3,418.5 L558.9,419.1 L561.5,419.5 L564.2,419.6 L566.9,419.6 L569.5,419.3 L572.1,418.7 L574.7,418 L577.2,417 L579.6,415.8 L581.8,414.4 L584,412.8 L586,411.1 L587.8,409.2 L589.5,407.1 L591,404.9 L592.3,402.6 L593.4,400.1 L594.3,397.6 L594.9,395 L595.4,392.4 L595.6,389.7 L595.6,387.1 L593.5,345.9 L607.3,340.1 L635,370.8 L636.8,372.7 L638.9,374.4 L641,375.9 L643.3,377.3 L645.7,378.5 L648.2,379.4 L650.8,380.1 L653.4,380.6 L656.1,380.9 L658.7,381 L661.4,380.8 L664,380.4 L666.6,379.7 L669.1,378.9 L671.6,377.8 L673.9,376.6 L676.2,375.1 L678.2,373.4 L680.2,371.6 L682,369.6 L683.6,367.5 L685,365.2 L686.2,362.8 L687.2,360.4 Z" fill="none" stroke="#000" stroke-width="3.8" stroke-linejoin="miter"/>
<circle cx="708.5" cy="604" r="181.5" fill="none" stroke="#000" stroke-width="3.6"/>
<circle cx="709" cy="473.5" r="20.7" fill="none" stroke="#000" stroke-width="8.7"/>
<circle cx="709" cy="734.5" r="20.7" fill="none" stroke="#000" stroke-width="8.7"/>
<path d="M770.3,618.7 L786.2,618.4 A79,79 0 0 0 785.6,586.9 L769.7,587.1 A63.5,63.5 0 0 0 752.1,557.9 L752.1,557.9 L759.8,544 A79,79 0 0 0 732.2,528.6 L724.5,542.5 A63.5,63.5 0 0 0 690.4,543.1 L690.4,543.1 L682.2,529.5 A79,79 0 0 0 655.1,545.8 L663.3,559.4 A63.5,63.5 0 0 0 646.7,589.3 L646.7,589.3 L630.8,589.6 A79,79 0 0 0 631.4,621.1 L647.3,620.9 A63.5,63.5 0 0 0 664.9,650.1 L664.9,650.1 L657.2,664 A79,79 0 0 0 684.8,679.4 L692.5,665.5 A63.5,63.5 0 0 0 726.6,664.9 L726.6,664.9 L734.8,678.5 A79,79 0 0 0 761.9,662.2 L753.7,648.6 A63.5,63.5 0 0 0 770.3,618.7 Z" fill="none" stroke="#000" stroke-width="3.8"/>
<path d="M842,580 A25,25 0 0 1 842,630" fill="none" stroke="#000" stroke-width="2.2"/>
<line x1="867" y1="605" x2="883" y2="605" stroke="#000" stroke-width="2.2"/>
<line x1="865.6" y1="595.2" x2="872.5" y2="592.4" stroke="#000" stroke-width="2.2"/>
<line x1="865.6" y1="614.8" x2="872.5" y2="617.6" stroke="#000" stroke-width="2.2"/>
<line x1="859.7" y1="587.3" x2="870.3" y2="576.7" stroke="#000" stroke-width="2.2"/>
<line x1="859.7" y1="622.7" x2="870.3" y2="633.3" stroke="#000" stroke-width="2.2"/>
<line x1="851.8" y1="581.4" x2="854.6" y2="574.5" stroke="#000" stroke-width="2.2"/>
<line x1="851.8" y1="628.6" x2="854.6" y2="635.5" stroke="#000" stroke-width="2.2"/>
<line x1="841.7" y1="580.4" x2="841.7" y2="644.2" stroke="#000" stroke-width="2.2"/>
<line x1="844.8" y1="566.5" x2="844.8" y2="605.3" stroke="#000" stroke-width="1.6"/>
<path d="M826.5,599.6 L814,599.6 Q811.5,599.6 811.5,595.5 M827,613.5 L814,613.5 Q811.5,613.5 811.5,618.5 M826.6,596 L826.6,618.5 M828.5,598.5 L834,604.5 L828.5,611" fill="none" stroke="#000" stroke-width="1.9"/>
<defs><clipPath id="hc0"><path d="M68.2,348 L116,348 L116,423 L126.3,423 L126.3,454.5 L57.5,454.5 L57.5,423 L68.2,423 Z"/></clipPath><clipPath id="hc1"><path d="M57.5,491 L126.3,491 L126.3,530.4 L57.5,530.4 Z"/></clipPath><clipPath id="hc2"><path d="M57.5,681.2 L126.3,681.2 L126.3,718.5 L57.5,718.5 Z"/></clipPath><clipPath id="hc3"><path d="M57.5,754.5 L126.3,754.5 L126.3,787 L116,787 L116,861.5 L68.2,861.5 L68.2,787 L57.5,787 Z"/></clipPath></defs>
<path clip-path="url(#hc0)" d="M40,329.2 L140,229.2 M40,349 L140,249 M40,368.8 L140,268.8 M40,388.6 L140,288.6 M40,408.4 L140,308.4 M40,428.2 L140,328.2 M40,448 L140,348 M40,467.8 L140,367.8 M40,487.6 L140,387.6 M40,507.4 L140,407.4 M40,527.2 L140,427.2 M40,547 L140,447 M40,566.8 L140,466.8 M40,586.6 L140,486.6 M40,606.4 L140,506.4 M40,626.2 L140,526.2 M40,646 L140,546 M40,665.8 L140,565.8 M40,685.6 L140,585.6 M40,705.4 L140,605.4 M40,725.2 L140,625.2 M40,745 L140,645 M40,764.8 L140,664.8 M40,784.6 L140,684.6 M40,804.4 L140,704.4 M40,824.2 L140,724.2 M40,844 L140,744 M40,863.8 L140,763.8 M40,883.6 L140,783.6 M40,903.4 L140,803.4 M40,923.2 L140,823.2 M40,943 L140,843" stroke="#000" stroke-width="3.3" fill="none"/>
<path clip-path="url(#hc1)" d="M40,334.6 L140,234.6 M40,353.8 L140,253.8 M40,373 L140,273 M40,392.2 L140,292.2 M40,411.4 L140,311.4 M40,430.6 L140,330.6 M40,449.8 L140,349.8 M40,469 L140,369 M40,488.2 L140,388.2 M40,507.4 L140,407.4 M40,526.6 L140,426.6 M40,545.8 L140,445.8 M40,565 L140,465 M40,584.2 L140,484.2 M40,603.4 L140,503.4 M40,622.6 L140,522.6 M40,641.8 L140,541.8 M40,661 L140,561 M40,680.2 L140,580.2 M40,699.4 L140,599.4 M40,718.6 L140,618.6 M40,737.8 L140,637.8 M40,757 L140,657 M40,776.2 L140,676.2 M40,795.4 L140,695.4 M40,814.6 L140,714.6 M40,833.8 L140,733.8 M40,853 L140,753 M40,872.2 L140,772.2 M40,891.4 L140,791.4 M40,910.6 L140,810.6 M40,929.8 L140,829.8 M40,949 L140,849" stroke="#000" stroke-width="3.3" fill="none"/>
<path clip-path="url(#hc2)" d="M40,333.4 L140,233.4 M40,352.6 L140,252.6 M40,371.8 L140,271.8 M40,391 L140,291 M40,410.2 L140,310.2 M40,429.4 L140,329.4 M40,448.6 L140,348.6 M40,467.8 L140,367.8 M40,487 L140,387 M40,506.2 L140,406.2 M40,525.4 L140,425.4 M40,544.6 L140,444.6 M40,563.8 L140,463.8 M40,583 L140,483 M40,602.2 L140,502.2 M40,621.4 L140,521.4 M40,640.6 L140,540.6 M40,659.8 L140,559.8 M40,679 L140,579 M40,698.2 L140,598.2 M40,717.4 L140,617.4 M40,736.6 L140,636.6 M40,755.8 L140,655.8 M40,775 L140,675 M40,794.2 L140,694.2 M40,813.4 L140,713.4 M40,832.6 L140,732.6 M40,851.8 L140,751.8 M40,871 L140,771 M40,890.2 L140,790.2 M40,909.4 L140,809.4 M40,928.6 L140,828.6 M40,947.8 L140,847.8" stroke="#000" stroke-width="3.3" fill="none"/>
<path clip-path="url(#hc3)" d="M40,334 L140,234 M40,354 L140,254 M40,374 L140,274 M40,394 L140,294 M40,414 L140,314 M40,434 L140,334 M40,454 L140,354 M40,474 L140,374 M40,494 L140,394 M40,514 L140,414 M40,534 L140,434 M40,554 L140,454 M40,574 L140,474 M40,594 L140,494 M40,614 L140,514 M40,634 L140,534 M40,654 L140,554 M40,674 L140,574 M40,694 L140,594 M40,714 L140,614 M40,734 L140,634 M40,754 L140,654 M40,774 L140,674 M40,794 L140,694 M40,814 L140,714 M40,834 L140,734 M40,854 L140,754 M40,874 L140,774 M40,894 L140,794 M40,914 L140,814 M40,934 L140,834 M40,954 L140,854" stroke="#000" stroke-width="3.3" fill="none"/>
<path d="M68.2,348 L78,321.5 L105.5,321.5 L116,348 L116,423 L126.3,423 L126.3,787 L116,787 L116,861.5 L107.3,889.8 L77.8,889.8 L68.2,861.5 L68.2,787 L57.5,787 L57.5,423 L68.2,423 Z" stroke="#000" stroke-width="3.8" fill="none" stroke-linejoin="miter"/>
<path d="M68.2,348 L116,348 M68.2,861.5 L116,861.5" stroke="#000" stroke-width="3.8" fill="none"/>
<line x1="57.5" y1="454.5" x2="126.3" y2="454.5" stroke="#000" stroke-width="3.8"/>
<line x1="57.5" y1="491" x2="126.3" y2="491" stroke="#000" stroke-width="3.8"/>
<line x1="57.5" y1="530.4" x2="126.3" y2="530.4" stroke="#000" stroke-width="3.8"/>
<line x1="57.5" y1="560.2" x2="126.3" y2="560.2" stroke="#000" stroke-width="3.8"/>
<line x1="57.5" y1="590.4" x2="126.3" y2="590.4" stroke="#000" stroke-width="3.8"/>
<line x1="57.5" y1="622.9" x2="126.3" y2="622.9" stroke="#000" stroke-width="3.8"/>
<line x1="57.5" y1="651.8" x2="126.3" y2="651.8" stroke="#000" stroke-width="3.8"/>
<line x1="57.5" y1="681.2" x2="126.3" y2="681.2" stroke="#000" stroke-width="3.8"/>
<line x1="57.5" y1="718.5" x2="126.3" y2="718.5" stroke="#000" stroke-width="3.8"/>
<line x1="57.5" y1="754.5" x2="126.3" y2="754.5" stroke="#000" stroke-width="3.8"/>
<line x1="63.3" y1="560.2" x2="63.3" y2="590.4" stroke="#000" stroke-width="3.6"/>
<line x1="120.5" y1="560.2" x2="120.5" y2="590.4" stroke="#000" stroke-width="3.6"/>
<line x1="63.3" y1="622.9" x2="63.3" y2="651.8" stroke="#000" stroke-width="3.6"/>
<line x1="120.5" y1="622.9" x2="120.5" y2="651.8" stroke="#000" stroke-width="3.6"/>
<path d="M59,554.2 L59,560.2 L65,560.2 Z M125,554.2 L125,560.2 L119,560.2 Z M59,616.9 L59,622.9 L65,622.9 Z M125,616.9 L125,622.9 L119,622.9 Z M59,596.4 L59,590.4 L65,590.4 Z M125,596.4 L125,590.4 L119,590.4 Z M59,657.8 L59,651.8 L65,651.8 Z M125,657.8 L125,651.8 L119,651.8 Z" fill="#000"/>
<path d="M43,474 L209,474 M43,737.5 L209,737.5" stroke="#ff0000" stroke-width="3.9" stroke-linecap="round"/>
<path d="M199,478 L199,520 M199,681.4 L199,733" stroke="#ff0000" stroke-width="3.9" stroke-linecap="round"/>
<path d="M201,474 L204,493 L194,493 L197,474 Z" fill="#ff0000" stroke="#ff0000" stroke-width="1" stroke-linejoin="round"/>
<path d="M197,737.5 L194,718.5 L204,718.5 L201,737.5 Z" fill="#ff0000" stroke="#ff0000" stroke-width="1" stroke-linejoin="round"/>
<path d="M57.5,787 L57.5,976 M126.2,787 L126.2,976" stroke="#ff0000" stroke-width="3.9" stroke-linecap="round"/>
<path d="M19,968.5 L54,968.5 M130,968.5 L240,968.5" stroke="#ff0000" stroke-width="3.9" stroke-linecap="round"/>
<path d="M57.5,970.5 L38.5,973.5 L38.5,963.5 L57.5,966.5 Z" fill="#ff0000" stroke="#ff0000" stroke-width="1" stroke-linejoin="round"/>
<path d="M126.2,966.5 L145.2,963.5 L145.2,973.5 L126.2,970.5 Z" fill="#ff0000" stroke="#ff0000" stroke-width="1" stroke-linejoin="round"/>
<path d="M375,541.5 L710,541.5 M375,668.5 L710,668.5" stroke="#ff0000" stroke-width="3.9" stroke-linecap="round"/>
<path d="M384,545 L384,665" stroke="#ff0000" stroke-width="3.9" stroke-linecap="round"/>
<path d="M386,541.5 L389,560.5 L379,560.5 L382,541.5 Z" fill="#ff0000" stroke="#ff0000" stroke-width="1" stroke-linejoin="round"/>
<path d="M382,668.5 L379,649.5 L389,649.5 L386,668.5 Z" fill="#ff0000" stroke="#ff0000" stroke-width="1" stroke-linejoin="round"/>
<path d="M588.5,591.6 L631,591.6 M588.5,623.3 L631,623.3" stroke="#ff0000" stroke-width="3.9" stroke-linecap="round"/>
<path d="M597.3,554.5 L597.3,660.4" stroke="#ff0000" stroke-width="3.9" stroke-linecap="round"/>
<path d="M595.3,591.6 L592.3,572.6 L602.3,572.6 L599.3,591.6 Z" fill="#ff0000" stroke="#ff0000" stroke-width="1" stroke-linejoin="round"/>
<path d="M599.3,623.3 L602.3,642.3 L592.3,642.3 L595.3,623.3 Z" fill="#ff0000" stroke="#ff0000" stroke-width="1" stroke-linejoin="round"/>
<path d="M629.8,604 L629.8,999 M788,604 L788,999" stroke="#ff0000" stroke-width="3.9" stroke-linecap="round"/>
<path d="M634,990.5 L784,990.5" stroke="#ff0000" stroke-width="3.9" stroke-linecap="round"/>
<path d="M629.8,988.5 L648.8,985.5 L648.8,995.5 L629.8,992.5 Z" fill="#ff0000" stroke="#ff0000" stroke-width="1" stroke-linejoin="round"/>
<path d="M788,992.5 L769,995.5 L769,985.5 L788,988.5 Z" fill="#ff0000" stroke="#ff0000" stroke-width="1" stroke-linejoin="round"/>
<text transform="translate(161.69,953.54) scale(0.7539,1)" font-family="Liberation Sans" font-style="italic" font-weight="normal" font-size="68.34" fill="#ff0000" stroke="#ff0000" stroke-width="0.35">8</text>
<text transform="translate(190.60,954.23) scale(1.0161,1)" font-family="Liberation Sans" font-style="italic" font-weight="normal" font-size="53.49" fill="#ff0000" stroke="#ff0000" stroke-width="0.35">.</text>
<text transform="translate(207.63,953.55) scale(0.7598,1)" font-family="Liberation Sans" font-style="italic" font-weight="normal" font-size="67.21" fill="#ff0000" stroke="#ff0000" stroke-width="0.35">5</text>
<text transform="translate(248.32,953.62) scale(0.8247,1)" font-family="Liberation Sans" font-style="italic" font-weight="normal" font-size="45.12" fill="#ff0000" stroke="#fff" stroke-width="0.25">m</text>
<text transform="translate(279.21,953.62) scale(0.8449,1)" font-family="Liberation Sans" font-style="italic" font-weight="normal" font-size="45.12" fill="#ff0000" stroke="#fff" stroke-width="0.25">m</text>
<text transform="translate(683.12,979.33) scale(0.7231,1)" font-family="Liberation Sans" font-style="italic" font-weight="normal" font-size="68.07" fill="#ff0000" stroke="#ff0000" stroke-width="0.35">2</text>
<text transform="translate(711.52,979.45) scale(0.7847,1)" font-family="Liberation Sans" font-style="italic" font-weight="normal" font-size="67.68" fill="#ff0000" stroke="#ff0000" stroke-width="0.35">0</text>
<text transform="translate(220.35,674.34) rotate(-90) scale(0.7347,1)" font-family="Liberation Sans" font-style="italic" font-weight="normal" font-size="67.54" fill="#ff0000" stroke="#ff0000" stroke-width="0.35">3</text>
<text transform="translate(220.35,644.61) rotate(-90) scale(0.7951,1)" font-family="Liberation Sans" font-style="italic" font-weight="normal" font-size="67.54" fill="#ff0000" stroke="#ff0000" stroke-width="0.35">0</text>
<text transform="translate(216.82,599.98) rotate(-90) scale(0.8244,1)" font-family="Liberation Sans" font-style="italic" font-weight="normal" font-size="45.30" fill="#ff0000" stroke="#fff" stroke-width="0.25">mm</text>
<text transform="translate(373.04,609.10) rotate(-90) scale(0.7944,1)" font-family="Liberation Sans" font-style="italic" font-weight="normal" font-size="68.10" fill="#ff0000" stroke="#ff0000" stroke-width="0.35">6</text>
<path d="M326,616.8 L372.4,625.4 M326,616.8 Q336,622 341,632.5" fill="none" stroke="#ff0000" stroke-width="4.6" stroke-linecap="round"/>
<text transform="translate(585.83,624.09) rotate(-90) scale(0.7375,1)" font-family="Liberation Sans" font-style="italic" font-weight="normal" font-size="70.51" fill="#ff0000" stroke="#ff0000" stroke-width="0.35">4</text>
<text transform="translate(23.05,1139.66) scale(0.7203,1)" font-family="Liberation Sans" font-style="normal" font-weight="bold" font-size="64.23" fill="#000" stroke="#000" stroke-width="1.6">C</text>
<text transform="translate(60.40,1139.50) scale(0.8499,1)" font-family="Liberation Sans" font-style="normal" font-weight="bold" font-size="60.97" fill="#000" stroke="#000" stroke-width="1.6">h</text>
<text transform="translate(94.00,1139.40) scale(0.7246,1)" font-family="Liberation Sans" font-style="normal" font-weight="bold" font-size="60.36" fill="#000" stroke="#000" stroke-width="1.6">a</text>
<text transform="translate(123.10,1139.20) scale(0.6842,1)" font-family="Liberation Sans" font-style="normal" font-weight="bold" font-size="60.55" fill="#000" stroke="#000" stroke-width="1.6">i</text>
<text transform="translate(137.46,1139.20) scale(0.8041,1)" font-family="Liberation Sans" font-style="normal" font-weight="bold" font-size="60.00" fill="#000" stroke="#000" stroke-width="1.6">n</text>
<text transform="translate(184.27,1139.37) scale(0.7538,1)" font-family="Liberation Sans" font-style="normal" font-weight="bold" font-size="63.14" fill="#000" stroke="#000" stroke-width="1.6">5</text>
<text transform="translate(213.01,1139.50) scale(0.7685,1)" font-family="Liberation Sans" font-style="normal" font-weight="bold" font-size="63.86" fill="#000" stroke="#000" stroke-width="1.6">2</text>
<text transform="translate(242.38,1139.36) scale(0.7615,1)" font-family="Liberation Sans" font-style="normal" font-weight="bold" font-size="63.80" fill="#000" stroke="#000" stroke-width="1.6">0</text>
<text transform="translate(840.65,1144.54) scale(0.7382,1)" font-family="Liberation Sans" font-style="normal" font-weight="bold" font-size="76.43" fill="#000" stroke="#000" stroke-width="1.6">J</text>
<text transform="translate(876.14,1144.70) scale(0.7287,1)" font-family="Liberation Sans" font-style="normal" font-weight="bold" font-size="76.67" fill="#000" stroke="#000" stroke-width="1.6">T</text>
<text transform="translate(914.57,1144.70) scale(0.7289,1)" font-family="Liberation Sans" font-style="normal" font-weight="bold" font-size="76.67" fill="#000" stroke="#000" stroke-width="1.6">F</text>
<text transform="translate(969.62,1144.70) scale(0.7909,1)" font-family="Liberation Sans" font-style="normal" font-weight="bold" font-size="76.67" fill="#000" stroke="#000" stroke-width="1.6">7</text>
<path d="M1018.5,1091 L1028.8,1091 L1028.8,1145.5 L1020,1145.5 L1020,1106.5 Q1015,1111.5 1008.9,1113.7 L1008.9,1105.2 Q1016.5,1101 1018.5,1091 Z" fill="#000"/>
<text transform="translate(1040.88,1144.64) scale(0.7518,1)" font-family="Liberation Sans" font-style="normal" font-weight="bold" font-size="76.20" fill="#000" stroke="#000" stroke-width="1.6">8</text>
</svg></body></html>
